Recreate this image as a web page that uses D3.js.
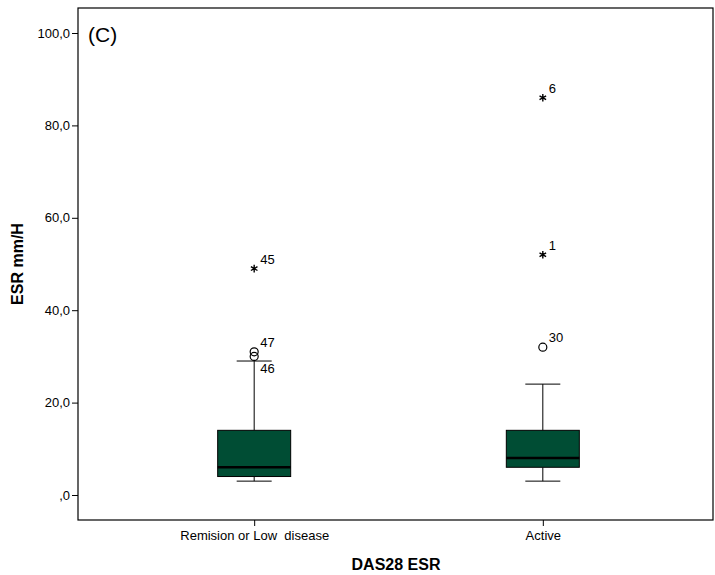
<!DOCTYPE html>
<html>
<head>
<meta charset="utf-8">
<script src="https://cdn.jsdelivr.net/npm/d3@7"></script>
<style>
  body { margin: 0; background: #fff; }
  text { font-family: "Liberation Sans", Arial, sans-serif; }
</style>
</head>
<body>
<div id="graphic"></div>
<script>
(function() {
  var W = 715, H = 575;
  var margin = { top: 8, left: 78, right: 2, bottom: 55 },
  width = W - margin.left - margin.right,
  height = H - margin.top - margin.bottom;

  /*** DATA ***/
  var categories = ["Remision or Low\u00a0 disease", "Active"];
  var whiskerLow = [3, 3];
  var q1 = [4, 6];
  var medians = [6, 8];
  var q3 = [14, 14];
  var whiskerHigh = [29, 24];
  // outliers: [category index, value, case label, type, label position]
  var outliers = [
    [0, 49, "45", "extreme", "up"],
    [0, 31, "47", "mild", "up"],
    [0, 30, "46", "mild", "down"],
    [1, 86, "6", "extreme", "up"],
    [1, 52, "1", "extreme", "up"],
    [1, 32, "30", "mild", "up"]
  ];
  var yTicks = [0, 20, 40, 60, 80, 100];

  var boxColor = "#004d34";

  var svg = d3.select("#graphic")
        .append("svg")
        .attr("width", W)
        .attr("height", H)
        .append("g")
        .attr("transform", "translate(" + margin.left + "," + margin.top + ")");

  /*** SCALES ***/
  var x = d3.scalePoint().domain(categories).range([3, 638]).padding(0.6);
  var y = d3.scaleLinear().domain([0, 100]).range([487, 25]);

  var boxW = 73, capW = 35;

  /*** FRAME ***/
  svg.append("rect")
    .attr("x", 0).attr("y", 0)
    .attr("width", width).attr("height", height)
    .attr("fill", "none").attr("stroke", "#000").attr("stroke-width", 1.2);

  /*** AXES ***/
  var fmt = function(d) { return d === 0 ? ",0" : d + ",0"; };
  var yAxis = svg.append("g")
    .call(d3.axisLeft(y).tickValues(yTicks).tickFormat(fmt).tickSize(6).tickPadding(2));
  yAxis.select(".domain").remove();
  yAxis.selectAll("text").attr("font-size", 13).attr("fill", "#000").style("font-family", "Liberation Sans, Arial, sans-serif");

  var xAxis = svg.append("g")
    .attr("transform", "translate(0," + height + ")")
    .call(d3.axisBottom(x).tickSize(6).tickPadding(5));
  xAxis.select(".domain").remove();
  xAxis.selectAll("text").attr("font-size", 13).attr("fill", "#000").style("font-family", "Liberation Sans, Arial, sans-serif");

  svg.append("text")
    .attr("transform", "translate(" + (-55) + "," + (height / 2) + ") rotate(-90)")
    .attr("text-anchor", "middle")
    .attr("font-size", 16).attr("font-weight", "bold")
    .text("ESR mm/H");

  svg.append("text")
    .attr("x", 318).attr("y", height + 50)
    .attr("text-anchor", "middle")
    .attr("font-size", 16).attr("font-weight", "bold")
    .text("DAS28 ESR");

  svg.append("text")
    .attr("x", 10).attr("y", 34)
    .attr("font-size", 21)
    .text("(C)");

  /*** BOXES ***/
  var groups = categories.map(function(c, i) {
    return { cat: c, lo: whiskerLow[i], q1: q1[i], med: medians[i], q3: q3[i], hi: whiskerHigh[i] };
  });

  var g = svg.selectAll(".box").data(groups).enter().append("g").attr("class", "box");

  g.append("line")
    .attr("x1", function(d) { return x(d.cat); }).attr("x2", function(d) { return x(d.cat); })
    .attr("y1", function(d) { return y(d.hi); }).attr("y2", function(d) { return y(d.q3); })
    .attr("stroke", "#000");
  g.append("line")
    .attr("x1", function(d) { return x(d.cat); }).attr("x2", function(d) { return x(d.cat); })
    .attr("y1", function(d) { return y(d.q1); }).attr("y2", function(d) { return y(d.lo); })
    .attr("stroke", "#000");
  g.append("line")
    .attr("x1", function(d) { return x(d.cat) - capW / 2; }).attr("x2", function(d) { return x(d.cat) + capW / 2; })
    .attr("y1", function(d) { return y(d.hi); }).attr("y2", function(d) { return y(d.hi); })
    .attr("stroke", "#000");
  g.append("line")
    .attr("x1", function(d) { return x(d.cat) - capW / 2; }).attr("x2", function(d) { return x(d.cat) + capW / 2; })
    .attr("y1", function(d) { return y(d.lo); }).attr("y2", function(d) { return y(d.lo); })
    .attr("stroke", "#000");
  g.append("rect")
    .attr("x", function(d) { return x(d.cat) - boxW / 2; })
    .attr("y", function(d) { return y(d.q3); })
    .attr("width", boxW)
    .attr("height", function(d) { return y(d.q1) - y(d.q3); })
    .attr("fill", boxColor).attr("stroke", "#000").attr("stroke-width", 1);
  g.append("line")
    .attr("x1", function(d) { return x(d.cat) - boxW / 2; }).attr("x2", function(d) { return x(d.cat) + boxW / 2; })
    .attr("y1", function(d) { return y(d.med); }).attr("y2", function(d) { return y(d.med); })
    .attr("stroke", "#000").attr("stroke-width", 2.5);

  /*** OUTLIERS ***/
  var star = d3.symbol().type(d3.symbolAsterisk).size(40);
  outliers.forEach(function(o) {
    var cx = x(categories[o[0]]), cy = y(o[1]);
    if (o[3] === "extreme") {
      svg.append("path").attr("d", star())
        .attr("transform", "translate(" + cx + "," + cy + ")")
        .attr("fill", "none").attr("stroke", "#000").attr("stroke-width", 1.4);
    } else {
      svg.append("circle").attr("cx", cx).attr("cy", cy).attr("r", 4)
        .attr("fill", "none").attr("stroke", "#000").attr("stroke-width", 1.2);
    }
    svg.append("text")
      .attr("x", cx + 6)
      .attr("y", o[4] === "up" ? cy - 5 : cy + 17)
      .attr("font-size", 13)
      .text(o[2]);
  });
})();
</script>
</body>
</html>
